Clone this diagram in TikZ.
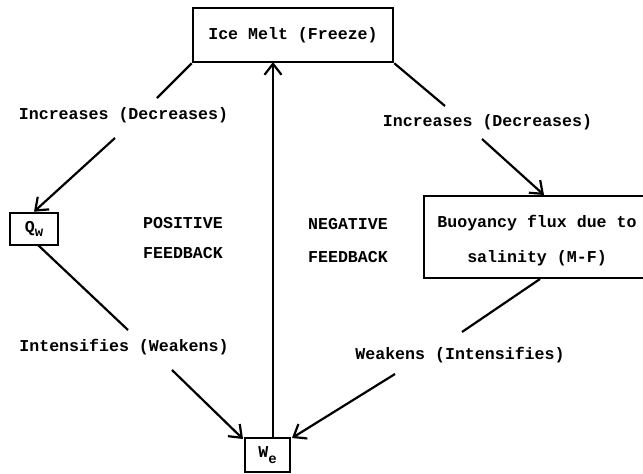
\documentclass[tikz,border=0pt]{standalone}
\usepackage{fontspec}
\setmonofont{Liberation Mono}
\usetikzlibrary{arrows.meta}
\tikzset{
  lbl/.style={font=\ttfamily\bfseries\fontsize{16.6}{35}\selectfont, inner sep=0pt},
  box/.style={draw, line width=2.6pt, inner sep=0pt, font=\ttfamily\bfseries\fontsize{16.6}{35}\selectfont, align=center},
  conn/.style={line width=2.2pt},
  arr/.style={line width=2.2pt, -{Straight Barb[length=11pt,width=17pt,line width=2.2pt]}}
}
\begin{document}
\begin{tikzpicture}[x=1pt,y=-1pt]
\useasboundingbox (0,0) rectangle (643,474);
% boxes
\node[box, minimum width=200pt, minimum height=54pt] (ice) at (293,35) {Ice Melt (Freeze)};
\node[box, minimum width=48pt, minimum height=32pt] (qw) at (34,229) {Q{\fontsize{14}{14}\selectfont\raisebox{-4pt}{w}}};
\node[box, minimum width=45pt, minimum height=34pt] (we) at (267.5,455) {\raisebox{2pt}{W}{\fontsize{14}{14}\selectfont\raisebox{-4pt}{e}}};
\node[box, minimum width=222pt, minimum height=82pt] (buoy) at (535,237) {};
\node[lbl, align=center] (buoytext) at (537,241) {Buoyancy flux due to\\salinity (M-F)};
% labels
\node[lbl] (inc1) at (123.5,115) {Increases (Decreases)};
\node[lbl] (inc2) at (487.5,122) {Increases (Decreases)};
\node[lbl] (int1) at (124,347) {Intensifies (Weakens)};
\node[lbl] (weak) at (460,355) {Weakens (Intensifies)};
\node[lbl] (pos) at (183,223) {POSITIVE};
\node[lbl] (posf) at (183,253) {FEEDBACK};
\node[lbl] (neg) at (348,224) {NEGATIVE};
\node[lbl] (negf) at (348,257) {FEEDBACK};
% connector break points
\coordinate (a1) at (157,98);
\coordinate (a2) at (115,138);
\coordinate (b1) at (445,106);
\coordinate (b2) at (482,139);
\coordinate (c1) at (128,330);
\coordinate (c2) at (172,370);
\coordinate (d0) at (540,279);
\coordinate (d1) at (462,332);
\coordinate (d2) at (395,374);
\coordinate (qwb) at (38,245);
\coordinate (weL) at (243,439);
\coordinate (weR) at (292,438);
\coordinate (weT) at (273,438);
\coordinate (iceB) at (273,62);
\coordinate (buoyT) at (544,195);
% connectors
\draw[conn] (ice.south west) -- (a1);
\draw[arr] (a2) -- (qw.north);
\draw[conn] (ice.south east) -- (b1);
\draw[arr] (b2) -- (buoyT);
\draw[conn] (qwb) -- (c1);
\draw[arr] (c2) -- (weL);
\draw[conn] (d0) -- (d1);
\draw[arr] (d2) -- (weR);
\draw[arr] (weT) -- (iceB);
\end{tikzpicture}
\end{document}
